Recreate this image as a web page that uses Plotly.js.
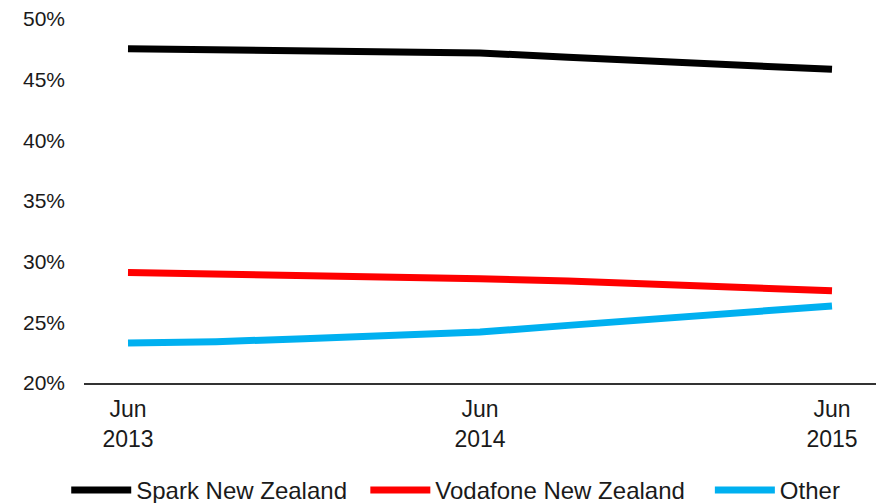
<!DOCTYPE html>
<html>
<head>
<meta charset="utf-8">
<script src="https://cdn.plot.ly/plotly-3.0.1.min.js"></script>
<style>html,body{margin:0;padding:0;background:#fff;}#chart{width:883px;height:503px;}</style>
</head>
<body>
<div id="chart"></div>
<script>
var quarters = ['Jun 2013','Sep 2013','Dec 2013','Mar 2014','Jun 2014','Sep 2014','Dec 2014','Mar 2015','Jun 2015'];
var spark = [47.55, 47.45, 47.4, 47.3, 47.2, 46.85, 46.5, 46.2, 45.85];
var vodafone = [29.1, 29.0, 28.9, 28.75, 28.6, 28.4, 28.15, 27.9, 27.6];
var other = [23.3, 23.4, 23.65, 23.9, 24.2, 24.75, 25.3, 25.85, 26.35];
var seriesNames = ['Spark New Zealand', 'Vodafone New Zealand', 'Other'];
var tickQuarters = ['Jun 2013', 'Jun 2014', 'Jun 2015'];
var tickLabels = ['Jun<br>2013', 'Jun<br>2014', 'Jun<br>2015'];
var yTicks = [20, 25, 30, 35, 40, 45, 50];
var yTickLabels = ['20%', '25%', '30%', '35%', '40%', '45%', '50%'];

var colors = ['#000000', '#FF0000', '#00B0F0'];
var series = [spark, vodafone, other];
var pads = ['\u00a0\u00a0', '\u00a0\u00a0\u00a0', ''];
var traces = series.map(function (s, i) {
  return {
    x: quarters, y: s, name: seriesNames[i] + pads[i], type: 'scatter', mode: 'lines',
    line: {color: colors[i], width: 7}
  };
});

var layout = {
  width: 883, height: 503,
  margin: {l: 84, r: 7, t: 19, b: 120},
  paper_bgcolor: '#fff', plot_bgcolor: '#fff',
  font: {family: 'Liberation Sans, Arial, sans-serif', color: '#1a1a1a'},
  showlegend: true,
  legend: {
    orientation: 'h', xref: 'container', yref: 'container',
    x: 0.075, xanchor: 'left', y: 0.07, yanchor: 'top',
    font: {size: 24, color: '#1a1a1a'}, itemwidth: 60, tracegroupgap: 0
  },
  xaxis: {
    type: 'category', range: [-0.5, 8.5],
    tickvals: tickQuarters, ticktext: tickLabels,
    showline: true, linecolor: '#333', linewidth: 1.5,
    showgrid: false, zeroline: false, ticks: '',
    tickfont: {size: 23, color: '#1a1a1a'}, ticklabelstandoff: 5
  },
  yaxis: {
    range: [20, 50], tickvals: yTicks, ticktext: yTickLabels,
    showline: false, showgrid: false, zeroline: false, ticks: '',
    tickfont: {size: 21, color: '#1a1a1a'}, ticklabelstandoff: 18
  }
};

Plotly.newPlot('chart', traces, layout, {displayModeBar: false, staticPlot: true});
</script>
</body>
</html>
